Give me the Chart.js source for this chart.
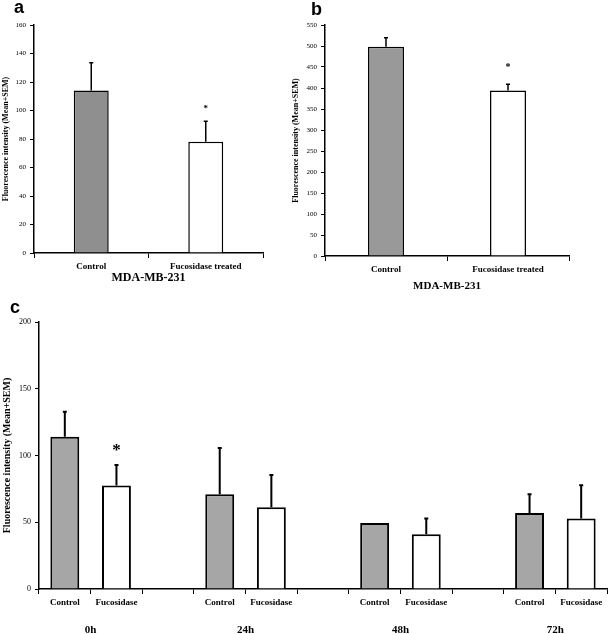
<!DOCTYPE html>
<html>
<head>
<meta charset="utf-8">
<script src="https://cdn.jsdelivr.net/npm/chart.js@4"></script>
<style>
  body { margin: 0; background: #fff; width: 609px; height: 634px; position: relative; overflow: hidden; }
  canvas { position: absolute; }
  .panel { position: absolute; font: bold 18px "Liberation Sans", Arial, sans-serif; line-height: 18px; color: #000; }
</style>
</head>
<body>
<canvas id="chartA" width="290" height="300" style="left:0;top:0"></canvas>
<canvas id="chartB" width="319" height="300" style="left:290px;top:0"></canvas>
<canvas id="chartC" width="609" height="334" style="left:0;top:300px"></canvas>
<div class="panel" style="left:14px;top:-2px">a</div>
<div class="panel" style="left:311px;top:0px">b</div>
<div class="panel" style="left:10px;top:298px">c</div>
<script>
const FONT = '"Liberation Serif", "Times New Roman", serif';

// panel a
const aLabels = ['Control', 'Fucosidase treated'];
const aMeans = [114, 78];
const aSem = [19.5, 14.5];
const aSignificant = [false, true];

// panel b
const bLabels = ['Control', 'Fucosidase treated'];
const bMeans = [498, 394];
const bSem = [21.5, 15];
const bSignificant = [false, true];

// panel c
const cTimes = ['0h', '24h', '48h', '72h'];
const cBarLabels = ['Control', 'Fucosidase'];
const cControl = [114, 71, 49.5, 57];
const cControlSem = [18.7, 34.6, 0, 14];
const cFucosidase = [77.5, 61.3, 41, 52.8];
const cFucosidaseSem = [15.4, 24, 11.8, 24.9];
const cSignificant = [true, false, false, false];

const yTitle = 'Fluorescence intensity (Mean+SEM)';

// error bars + asterisks, drawn from the data through the y scale
function errorBars(opts) {
  return {
    id: 'errorBars',
    afterDatasetsDraw(chart) {
      const ctx = chart.ctx;
      const y = chart.scales.y;
      chart.data.datasets.forEach((ds, i) => {
        chart.getDatasetMeta(i).data.forEach((bar, j) => {
          const v = ds.data[j];
          if (v == null) return;
          const sem = ds.sem[j] || 0;
          const top = y.getPixelForValue(v + sem);
          ctx.save();
          ctx.strokeStyle = '#000';
          ctx.lineWidth = opts.width;
          if (sem > 0) {
            ctx.beginPath();
            ctx.moveTo(bar.x, bar.y);
            ctx.lineTo(bar.x, top);
            ctx.moveTo(bar.x - opts.cap, top);
            ctx.lineTo(bar.x + opts.cap, top);
            ctx.stroke();
          }
          if (ds.star && ds.star[j]) {
            ctx.fillStyle = '#000';
            ctx.font = opts.starFont;
            ctx.textAlign = 'center';
            ctx.textBaseline = 'middle';
            ctx.fillText('*', bar.x, top - opts.starGap);
          }
          ctx.restore();
        });
      });
    }
  };
}

function yScale(max, step, width, tickSize, titleSize) {
  return {
    min: 0,
    max: max,
    ticks: { stepSize: step, color: '#000', font: { family: FONT, size: tickSize }, padding: 4 },
    grid: { drawOnChartArea: false, color: '#000', tickLength: 4, lineWidth: 1 },
    border: { color: '#000', width: 1.5 },
    title: {
      display: true, text: yTitle, color: '#000',
      font: { family: FONT, size: titleSize, weight: 'bold' },
      padding: { top: 1, bottom: 0 }
    },
    afterFit(s) { s.width = width; }
  };
}

function xScale(height, title, titleSize, titlePad) {
  return {
    ticks: { color: '#000', font: { family: FONT, size: 9, weight: 'bold' }, padding: 3, maxRotation: 0, autoSkip: false },
    grid: { drawOnChartArea: false, color: '#000', tickLength: 5, lineWidth: 1, offset: true },
    border: { color: '#000', width: 1.5 },
    title: title ? {
      display: true, text: title, color: '#000',
      font: { family: FONT, size: titleSize, weight: 'bold' },
      padding: { top: 0, bottom: titlePad }
    } : { display: false },
    afterFit(s) { s.height = height; }
  };
}

const common = {
  responsive: false,
  animation: false,
  plugins: { legend: { display: false }, tooltip: { enabled: false } }
};

// a
new Chart(document.getElementById('chartA'), {
  type: 'bar',
  data: {
    labels: aLabels,
    datasets: [{
      data: aMeans, sem: aSem, star: aSignificant,
      backgroundColor: ['#8f8f8f', '#ffffff'], borderColor: '#000', borderWidth: 1.5,
      barPercentage: 0.305, categoryPercentage: 1
    }]
  },
  options: {
    ...common,
    layout: { padding: { top: 25, right: 27, left: 0, bottom: 0 } },
    scales: { x: xScale(47, 'MDA-MB-231', 12, 15), y: yScale(160, 20, 34, 7, 8) }
  },
  plugins: [errorBars({ width: 1.5, cap: 2, starFont: 'bold 9px ' + FONT, starGap: 13 })]
});

// b
new Chart(document.getElementById('chartB'), {
  type: 'bar',
  data: {
    labels: bLabels,
    datasets: [{
      data: bMeans, sem: bSem, star: bSignificant,
      backgroundColor: ['#999999', '#ffffff'], borderColor: '#000', borderWidth: 1.5,
      barPercentage: 0.295, categoryPercentage: 1
    }]
  },
  options: {
    ...common,
    layout: { padding: { top: 25, right: 40, left: 0, bottom: 0 } },
    scales: { x: xScale(44, 'MDA-MB-231', 11, 7), y: yScale(550, 50, 35, 7, 8) }
  },
  plugins: [errorBars({ width: 1.5, cap: 2, starFont: 'bold 10px ' + FONT, starGap: 17 })]
});

// c: two bars per time point with an empty slot between groups
const cLabels = [], cCtrlData = [], cCtrlSem = [], cCtrlStar = [];
const cFucData = [], cFucSem = [], cFucStar = [];
cTimes.forEach((t, g) => {
  cLabels.push(cBarLabels[0], cBarLabels[1]);
  cCtrlData.push(cControl[g], null);
  cCtrlSem.push(cControlSem[g], 0);
  cCtrlStar.push(false, false);
  cFucData.push(null, cFucosidase[g]);
  cFucSem.push(0, cFucosidaseSem[g]);
  cFucStar.push(false, cSignificant[g]);
  if (g < cTimes.length - 1) {
    cLabels.push('');
    cCtrlData.push(null); cCtrlSem.push(0); cCtrlStar.push(false);
    cFucData.push(null); cFucSem.push(0); cFucStar.push(false);
  }
});

const groupLabels = {
  id: 'groupLabels',
  afterDraw(chart) {
    const ctx = chart.ctx;
    const xs = chart.scales.x;
    ctx.save();
    ctx.fillStyle = '#000';
    ctx.font = 'bold 11px ' + FONT;
    ctx.textAlign = 'center';
    ctx.textBaseline = 'middle';
    cTimes.forEach((t, g) => {
      const x = (xs.getPixelForValue(3 * g) + xs.getPixelForValue(3 * g + 1)) / 2;
      ctx.fillText(t, x, chart.chartArea.bottom + 41);
    });
    ctx.restore();
  }
};

new Chart(document.getElementById('chartC'), {
  type: 'bar',
  data: {
    labels: cLabels,
    datasets: [
      { data: cCtrlData, sem: cCtrlSem, star: cCtrlStar, backgroundColor: '#a6a6a6', borderColor: '#000',
        borderWidth: 2, barPercentage: 0.56, categoryPercentage: 1, grouped: false },
      { data: cFucData, sem: cFucSem, star: cFucStar, backgroundColor: '#ffffff', borderColor: '#000',
        borderWidth: 2, barPercentage: 0.56, categoryPercentage: 1, grouped: false }
    ]
  },
  options: {
    ...common,
    layout: { padding: { top: 22, right: 2, left: 0, bottom: 0 } },
    scales: { x: xScale(45, null), y: yScale(200, 50, 39, 8, 10) }
  },
  plugins: [errorBars({ width: 2, cap: 2, starFont: 'bold 17px ' + FONT, starGap: 14 }), groupLabels]
});
</script>
</body>
</html>
